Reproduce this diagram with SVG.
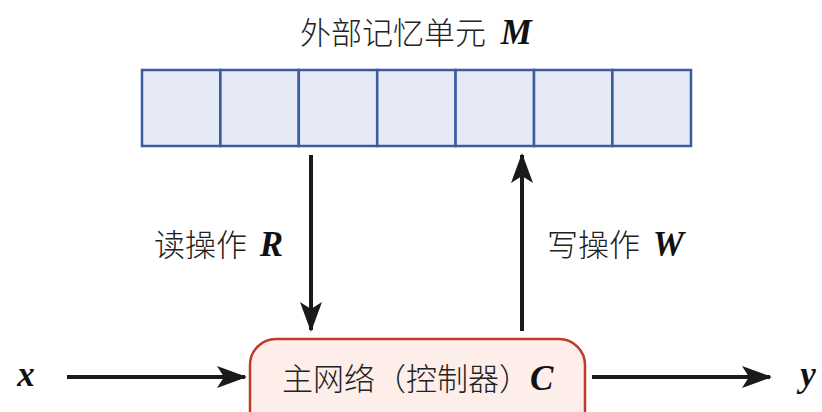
<svg xmlns="http://www.w3.org/2000/svg" width="822" height="412" viewBox="0 0 822 412">
<style>
.cjk{font-family:"Noto Sans CJK SC","Noto Sans",sans-serif;font-size:31px;font-weight:300;fill:#222;}
.m{font-family:"Liberation Serif","DejaVu Serif",serif;font-style:italic;font-weight:bold;fill:#111;font-size:35px;}
.cell{fill:#e6eaf7;stroke:#3a5c9e;stroke-width:2.5;}
.ln{stroke:#1a1a1a;stroke-width:4;fill:none;}
</style>
<defs>
<marker id="ah2" markerWidth="30" markerHeight="22" refX="28" refY="11" orient="auto" markerUnits="userSpaceOnUse" viewBox="0 0 30 22">
<path d="M0,0 L30,11 L0,22 L7,11 Z" fill="#1a1a1a"/>
</marker>
</defs>
<text class="cjk" x="300" y="44">外部记忆单元 <tspan class="m" dx="8">M</tspan></text>
<g id="memory">
<rect class="cell" x="142" y="70" width="78.4" height="76"/>
<rect class="cell" x="220.4" y="70" width="78.4" height="76"/>
<rect class="cell" x="298.8" y="70" width="78.4" height="76"/>
<rect class="cell" x="377.2" y="70" width="78.4" height="76"/>
<rect class="cell" x="455.6" y="70" width="78.4" height="76"/>
<rect class="cell" x="534" y="70" width="78.4" height="76"/>
<rect class="cell" x="612.4" y="70" width="78.6" height="76"/>
</g>
<g id="controller">
<rect x="250" y="339" width="335" height="100" rx="26" ry="26" fill="#fdeeea" stroke="#c0392b" stroke-width="2.5"/>
<text class="cjk" x="282" y="390">主网络（控制器）<tspan class="m">C</tspan></text>
</g>
<g id="input-x"><text class="m" x="26" y="386" text-anchor="middle">x</text></g>
<g id="output-y"><text class="m" x="808" y="386" text-anchor="middle">y</text></g>
<g id="connectors">
<line class="ln" x1="311" y1="155" x2="311" y2="330" marker-end="url(#ah2)"/>
<line class="ln" x1="522" y1="331" x2="522" y2="155" marker-end="url(#ah2)"/>
<line class="ln" x1="67" y1="377" x2="245" y2="377" marker-end="url(#ah2)"/>
<line class="ln" x1="592" y1="377" x2="770" y2="377" marker-end="url(#ah2)"/>
<text class="cjk" x="154" y="256">读操作 <tspan class="m" dx="6">R</tspan></text>
<text class="cjk" x="547" y="256">写操作 <tspan class="m" dx="6">W</tspan></text>
</g>
</svg>
